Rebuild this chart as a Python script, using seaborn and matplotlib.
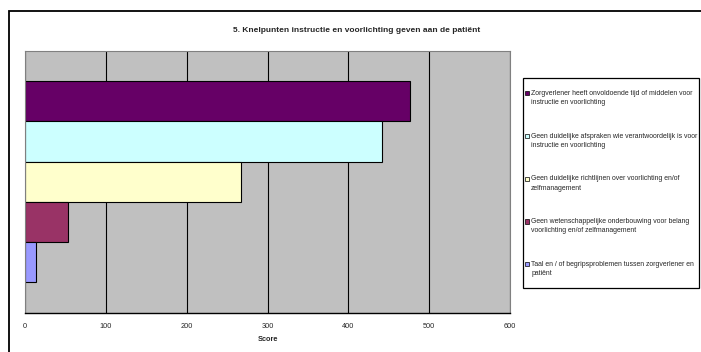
import matplotlib
matplotlib.use("Agg")
import matplotlib.pyplot as plt
from matplotlib.legend_handler import HandlerBase
from matplotlib.patches import Patch, Rectangle
import pandas as pd
import seaborn as sns

# Data
redenen = [
    "Zorgverlener heeft onvoldoende tijd of middelen voor\ninstructie en voorlichting",
    "Geen duidelijke afspraken wie verantwoordelijk is voor\ninstructie en voorlichting",
    "Geen duidelijke richtlijnen over voorlichting en/of\nzelfmanagement",
    "Geen wetenschappelijke onderbouwing voor belang\nvoorlichting en/of zelfmanagement",
    "Taal en / of begripsproblemen tussen zorgverlener en\npatiënt",
]
scores = [476, 442, 267, 53, 14]
kleuren = ["#660066", "#CCFFFF", "#FFFFCC", "#993366", "#9999FF"]
x_ticks = [0, 100, 200, 300, 400, 500, 600]
titel = "5. Knelpunten instructie en voorlichting geven aan de patiënt"

sns.set_style("white")
plt.rcParams["font.family"] = ["Liberation Sans", "DejaVu Sans"]

W, H = 701, 352
fig = plt.figure(figsize=(W / 100, H / 100), dpi=100)
fig.patch.set_facecolor("white")

# plot area in pixel terms
left, right, top, bottom = 25, 510, 50.7, 312.7
ax = fig.add_axes([left / W, 1 - bottom / H, (right - left) / W, (bottom - top) / H])
ax.set_facecolor("#C0C0C0")

df = pd.DataFrame({"groep": [""] * len(scores), "score": scores, "reden": redenen})
sns.barplot(
    data=df, x="score", y="groep", hue="reden", hue_order=redenen,
    palette=dict(zip(redenen, kleuren)), saturation=1, orient="h",
    width=0.767, gap=0, edgecolor="black", linewidth=0.8, legend=False, ax=ax,
)

ax.set_xlim(0, 600)
ax.set_xticks(x_ticks)
ax.set_xticklabels([str(t) for t in x_ticks], fontsize=5.3)
ax.tick_params(axis="x", direction="out", length=2.5, width=0.8, color="black", pad=5)
ax.tick_params(axis="y", left=False, labelleft=False)
ax.set_ylabel("")
ax.set_xlabel("Score", fontsize=5.3, fontweight="bold", labelpad=4)
ax.grid(axis="x", color="black", linewidth=0.8)
ax.grid(axis="y", visible=False)
ax.set_axisbelow(True)
for side in ["top", "left", "right"]:
    ax.spines[side].set_color("#808080")
    ax.spines[side].set_linewidth(0.8)
    ax.spines[side].set_visible(True)
ax.spines["bottom"].set_color("black")
ax.spines["bottom"].set_linewidth(1.0)

# Title
fig.text(357 / W, 1 - 30 / H, titel, ha="center", va="center",
         fontsize=6.0, fontweight="bold")


class EersteRegelVierkant(HandlerBase):
    """Small square key placed level with the first line of a two-line label."""

    def __init__(self, shift, size):
        super().__init__()
        self.shift = shift
        self.size = size

    def create_artists(self, legend, orig_handle, xdescent, ydescent,
                       width, height, fontsize, trans):
        s = self.size
        y = -ydescent + height / 2 + self.shift - s / 2
        r = Rectangle((-xdescent, y), s, s, facecolor=orig_handle.get_facecolor(),
                      edgecolor="black", linewidth=0.5, transform=trans)
        return [r]


# Legend box
fig.patches.append(Rectangle((523 / W, 1 - 288 / H), (699 - 523) / W, (288 - 78.3) / H,
                             transform=fig.transFigure, fill=False,
                             edgecolor="black", linewidth=0.9))
leg_fs = 4.95
handles = [Patch(facecolor=c) for c in kleuren]
leg = fig.legend(handles, redenen, loc="upper left",
                 bbox_to_anchor=(525 / W, 1 - 90 / H), frameon=False,
                 borderpad=0, borderaxespad=0, fontsize=leg_fs, labelspacing=3.85,
                 handlelength=0.6, handletextpad=0.3,
                 handler_map={Patch: EersteRegelVierkant(shift=3.5, size=3.0)})
for t in leg.get_texts():
    t.set_linespacing(1.45)

# Outer chart frame
fig.patches.append(Rectangle((9 / W, -0.5), 2, 1.5 - 11 / H,
                             transform=fig.transFigure, fill=False,
                             edgecolor="black", linewidth=1.3))

fig.savefig("out.png", dpi=100)
